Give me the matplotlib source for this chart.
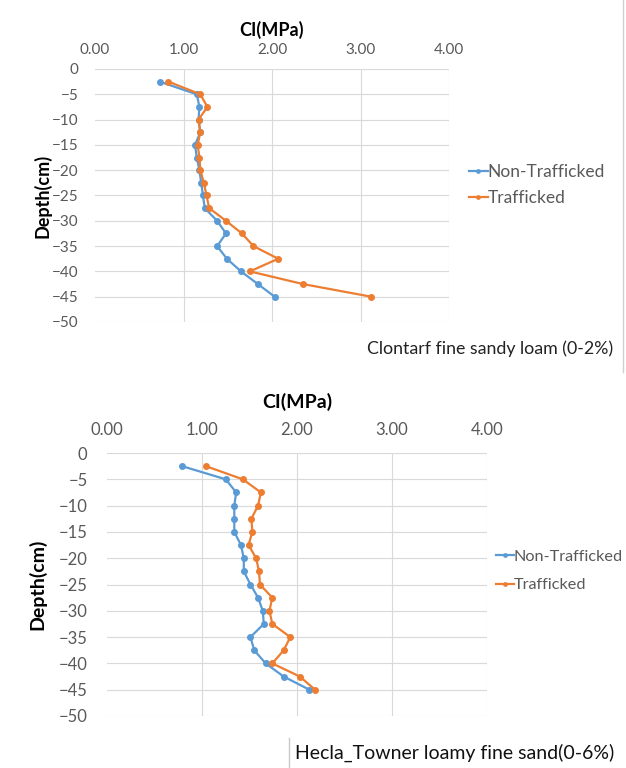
import matplotlib
matplotlib.use("Agg")
import matplotlib.pyplot as plt
from matplotlib.lines import Line2D

plt.rcParams['font.family'] = ['Lato', 'DejaVu Sans']

# depth below surface (cm), one reading every 2.5 cm
depth = [-2.5, -5, -7.5, -10, -12.5, -15, -17.5, -20, -22.5, -25,
         -27.5, -30, -32.5, -35, -37.5, -40, -42.5, -45]

# Clontarf fine sandy loam, cone index (MPa)
clontarf_non = [0.73, 1.15, 1.18, 1.17, 1.19, 1.13, 1.15, 1.18, 1.20, 1.22,
                1.24, 1.38, 1.48, 1.38, 1.49, 1.65, 1.84, 2.03]
clontarf_traf = [0.83, 1.19, 1.27, 1.17, 1.19, 1.16, 1.18, 1.19, 1.23, 1.26,
                 1.29, 1.48, 1.66, 1.79, 2.07, 1.75, 2.35, 3.12]

# Hecla_Towner loamy fine sand, cone index (MPa)
hecla_non = [0.79, 1.25, 1.36, 1.34, 1.34, 1.34, 1.41, 1.44, 1.44, 1.51,
             1.59, 1.64, 1.65, 1.51, 1.55, 1.67, 1.86, 2.13]
hecla_traf = [1.04, 1.43, 1.62, 1.59, 1.52, 1.53, 1.49, 1.57, 1.60, 1.61,
              1.74, 1.71, 1.74, 1.93, 1.86, 1.74, 2.03, 2.19]

x_ticks = [0, 1, 2, 3, 4]
x_ticklabels = ['0.00', '1.00', '2.00', '3.00', '4.00']
y_ticks = [0, -5, -10, -15, -20, -25, -30, -35, -40, -45, -50]

series_names = ['Non-Trafficked', 'Trafficked']
blue = '#5B9BD5'
orange = '#ED7D31'
tick_col = '#595959'
grid_col = '#D9D9D9'

W, H = 626, 768
fig = plt.figure(figsize=(W / 100, H / 100), dpi=100)


def px_axes(left, top, right, bottom):
    return fig.add_axes([left / W, 1 - bottom / H, (right - left) / W, (bottom - top) / H])


def draw_panel(ax, non, traf, tick_pad, tick_size, lab_pad):
    ax.plot(non, depth, color=blue, lw=1.6, marker='o', ms=4, label=series_names[0], zorder=3)
    ax.plot(traf, depth, color=orange, lw=1.6, marker='o', ms=4, label=series_names[1], zorder=3)
    ax.set_xlim(0, 4)
    ax.set_ylim(-50, 0)
    ax.xaxis.tick_top()
    ax.xaxis.set_label_position('top')
    ax.set_xticks(x_ticks)
    ax.set_xticklabels(x_ticklabels)
    ax.set_yticks(y_ticks)
    ax.tick_params(axis='both', length=0, colors=tick_col, labelsize=tick_size)
    ax.tick_params(axis='x', pad=tick_pad)
    ax.tick_params(axis='y', pad=lab_pad)
    for s in ax.spines.values():
        s.set_visible(False)
    # horizontal gridlines, vertical ones only away from the depth axis
    ax.grid(True, axis='y', color=grid_col, lw=0.8)
    for xv in x_ticks[1:]:
        ax.axvline(xv, color=grid_col, lw=0.8, zorder=0)
    ax.set_axisbelow(True)


# upper panel
ax1 = px_axes(95, 69, 449, 322)
draw_panel(ax1, clontarf_non, clontarf_traf, 9, 11, 12)
ax1.set_xlabel('CI(MPa)', fontsize=13, fontweight='bold', labelpad=5)
ax1.set_ylabel('Depth(cm)', fontsize=13, fontweight='bold', labelpad=0)
ax1.legend(loc='center left', bbox_to_anchor=(453 / W, 1 - 185 / H),
           bbox_transform=fig.transFigure, frameon=False, fontsize=12.5,
           handlelength=1.1, handletextpad=0.0, labelspacing=0.55,
           labelcolor=tick_col, markerscale=0.6)
fig.text(613 / W, 1 - 349 / H, 'Clontarf fine sandy loam (0-2%)', ha='right', va='center',
         fontsize=12.8, color='#222222')
fig.add_artist(Line2D([623 / W, 623 / W], [1 - 0 / H, 1 - 372 / H],
                      transform=fig.transFigure, color='#D0D0D0', lw=1))

# lower panel
ax2 = px_axes(107, 453, 487, 716)
draw_panel(ax2, hecla_non, hecla_traf, 11, 12, 14)
ax2.set_xlabel('CI(MPa)', fontsize=14, fontweight='bold', labelpad=10)
ax2.set_ylabel('Depth(cm)', fontsize=14, fontweight='bold', labelpad=9)
ax2.legend(loc='center left', bbox_to_anchor=(481 / W, 1 - 571 / H),
           bbox_transform=fig.transFigure, frameon=False, fontsize=11.7,
           handlelength=1.1, handletextpad=0.0, labelspacing=0.85,
           labelcolor=tick_col, markerscale=0.6)
fig.text(295 / W, 1 - 753 / H, 'Hecla_Towner loamy fine sand(0-6%)', ha='left', va='center',
         fontsize=14, color='#111111')
fig.add_artist(Line2D([289 / W, 289 / W], [1 - 738 / H, 0],
                      transform=fig.transFigure, color='#C8C8C8', lw=1))

fig.savefig('out.png', dpi=100)
